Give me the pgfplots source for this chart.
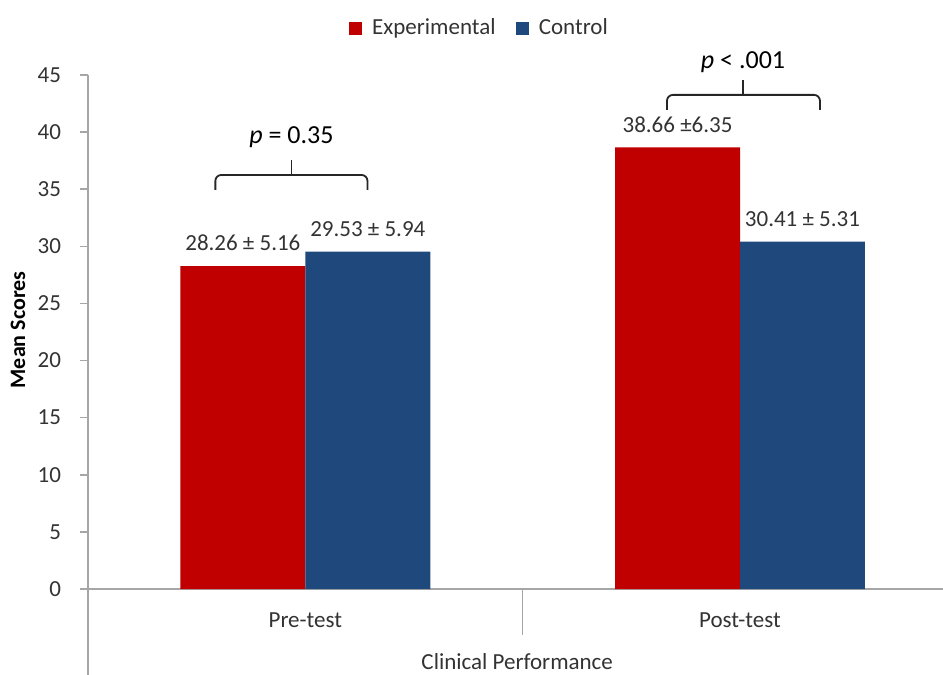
\documentclass[border=0pt]{standalone}
\usepackage{pgfplots}
\pgfplotsset{compat=1.18}
\usepackage{pgfplotstable}
\usepackage{fontspec}
\setmainfont{Carlito}
\definecolor{expred}{HTML}{C00000}
\definecolor{ctlblue}{HTML}{1F497D}
\definecolor{axgray}{HTML}{A6A6A6}
\definecolor{txt}{HTML}{333333}
\pgfplotstableread{
x y label
0 28.26 {28.26 ± 5.16}
1 38.66 {38.66 ±6.35}
}\exptable
\pgfplotstableread{
x y label
0 29.53 {29.53 ± 5.94}
1 30.41 {30.41 ± 5.31}
}\ctltable
\begin{document}
\begin{tikzpicture}
\useasboundingbox (-44pt,-43pt) rectangle (427.5pt,294.5pt);
\begin{axis}[
  at={(0,0)}, anchor=south west,
  scale only axis, width=427.5pt, height=257pt,
  xmin=-0.5, xmax=1.467, ymin=0, ymax=45,
  clip=false,
  ybar=0pt, bar width=0.2874,
  axis x line*=bottom, axis y line*=left,
  axis line style={draw=axgray, line width=0.8pt, -},
  ytick={0,5,...,45},
  xtick={0,1}, xticklabels={Pre-test,Post-test},
  xtick style={draw=none},
  ytick style={draw=axgray, line width=0.8pt},
  tick align=outside, major tick length=4pt,
  /pgf/number format/assume math mode=true,
  tick label style={font=\fontsize{11.5}{13}\selectfont, text=txt},
  xticklabel style={yshift=-4.5pt},
  yticklabel style={xshift=-6pt},
  ylabel={\textbf{Mean Scores}},
  ylabel style={at={(axis description cs:-0.082,0.504)}, anchor=center, font=\fontsize{11}{13}\selectfont, text=black},
  xlabel={Clinical Performance},
  xlabel style={at={(axis description cs:0.502,-0.142)}, anchor=center, font=\fontsize{11.5}{13}\selectfont, text=txt},
  legend style={at={(0.459,1.091)}, anchor=center, draw=none, fill=none,
    legend columns=2, font=\fontsize{11.5}{13}\selectfont, text=txt,
    /tikz/every even column/.append style={column sep=8pt},
    /tikz/every odd column/.append style={column sep=3pt}},
  nodes near coords, point meta=explicit symbolic,
  every node near coord/.append style={font=\fontsize{11.5}{13}\selectfont, text=txt, yshift=4pt},
]
\addplot[fill=expred, draw=none,
  legend image code/.code={\fill[expred] (0pt,-3.3pt) rectangle (6.6pt,3.3pt);}]
  table[x=x, y=y, meta=label]{\exptable};
\addlegendentry{Experimental}
\addplot[fill=ctlblue, draw=none,
  legend image code/.code={\fill[ctlblue] (0pt,-3.3pt) rectangle (6.6pt,3.3pt);}]
  table[x=x, y=y, meta=label]{\ctltable};
\addlegendentry{Control}
% category separators / extended axis line
\draw[axgray, line width=0.8pt] (axis cs:0.5,0) -- ([yshift=-23pt]axis cs:0.5,0);
\draw[axgray, line width=0.8pt] (axis cs:-0.5,0) -- ([yshift=-43pt]axis cs:-0.5,0);
% brackets
\draw[black!85, line width=0.9pt, rounded corners=3pt]
  (axis cs:-0.207,34.94) -- (axis cs:-0.207,36.25) -- (axis cs:0.143,36.25) -- (axis cs:0.143,34.94);
\draw[black!85, line width=0.9pt] (axis cs:-0.032,36.25) -- (axis cs:-0.032,37.57);
\node[font=\fontsize{13}{15}\selectfont, text=black] at (axis cs:-0.032,39.58) {\textit{p} = 0.35};
\draw[black!85, line width=0.9pt, rounded corners=3pt]
  (axis cs:0.832,41.94) -- (axis cs:0.832,43.26) -- (axis cs:1.184,43.26) -- (axis cs:1.184,41.94);
\draw[black!85, line width=0.9pt] (axis cs:1.007,43.26) -- (axis cs:1.007,44.57);
\node[font=\fontsize{13}{15}\selectfont, text=black] at (axis cs:1.007,46.15) {\textit{p} < .001};
\end{axis}
\end{tikzpicture}
\end{document}
